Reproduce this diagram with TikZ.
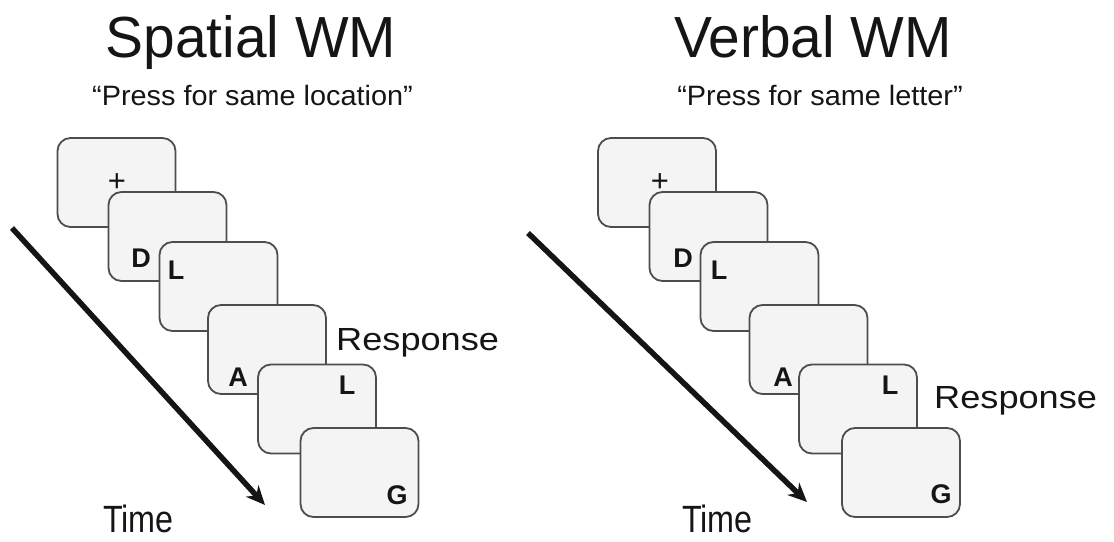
\documentclass[tikz,border=0pt]{standalone}
\usepackage{fontspec}
\setmainfont{Liberation Sans}
\usetikzlibrary{arrows.meta}
\definecolor{cardedge}{HTML}{4D4D4D}
\definecolor{cardfill}{HTML}{F4F4F4}
\definecolor{ink}{HTML}{151515}
\tikzset{
  card/.style={draw=cardedge, fill=cardfill, line width=1.8pt, rounded corners=13pt,
    minimum width=118pt, minimum height=89pt, inner sep=0pt},
  stim/.style={font=\fontsize{27}{27}\selectfont\bfseries, inner sep=0pt, text=ink},
  fix/.style={font=\fontsize{31}{31}\selectfont, inner sep=0pt, text=ink},
  title/.style={font=\fontsize{58}{58}\selectfont, anchor=base, inner sep=0pt, text=ink, xscale=0.98},
  instr/.style={font=\fontsize{28}{28}\selectfont, anchor=base, inner sep=0pt, text=ink, xscale=1.03},
  resp/.style={font=\fontsize{32}{32}\selectfont, anchor=base west, inner sep=0pt, text=ink, xscale=1.13},
  timelbl/.style={font=\fontsize{38}{38}\selectfont, anchor=base west, inner sep=0pt, text=ink, xscale=0.85},
  timearrow/.style={draw=ink, line width=5.5pt, -{Stealth[length=19pt,width=17pt]}}
}
\begin{document}
\begin{tikzpicture}[x=1pt,y=-1pt]
\useasboundingbox (0,0) rectangle (1114,541);

% ---------- Spatial working memory ----------
\node[title] (stitle) at (251,57) {Spatial WM};
\node[instr] (sinstr) at (252.5,105) {“Press for same location”};

\node[card] (s1) at (116.5,182.5) {};
\node[fix]  (s1t) at (117,183) {+};
\node[card] (s2) at (167.5,236.5) {};
\node[stim] (s2t) at (141,258) {D};
\node[card] (s3) at (218.5,286.5) {};
\node[stim] (s3t) at (176,270) {L};
\node[card] (s4) at (267,349.5) {};
\node[stim] (s4t) at (238,377) {A};
\node[card] (s5) at (317,409) {};
\node[stim] (s5t) at (347,385) {L};
\node[card] (s6) at (359.5,472.5) {};
\node[stim] (s6t) at (397,495) {G};

\node[resp] (sresp) at (336,350) {Response};

\coordinate (sa) at (12,228);
\coordinate (sb) at (265,505);
\draw[timearrow] (sa) -- (sb);
\node[timelbl] (stime) at (103,532) {Time};

% ---------- Verbal working memory ----------
\node[title] (vtitle) at (813,57) {Verbal WM};
\node[instr] (vinstr) at (820,105) {“Press for same letter”};

\node[card] (v1) at (657,182.5) {};
\node[fix]  (v1t) at (660,183) {+};
\node[card] (v2) at (708.5,236.5) {};
\node[stim] (v2t) at (683,258) {D};
\node[card] (v3) at (759.5,286.5) {};
\node[stim] (v3t) at (719,270) {L};
\node[card] (v4) at (808.5,349.5) {};
\node[stim] (v4t) at (783,377) {A};
\node[card] (v5) at (858,409) {};
\node[stim] (v5t) at (890,385) {L};
\node[card] (v6) at (901,472.5) {};
\node[stim] (v6t) at (941,494) {G};

\node[resp] (vresp) at (934,408) {Response};

\coordinate (va) at (528,233);
\coordinate (vb) at (807,502);
\draw[timearrow] (va) -- (vb);
\node[timelbl] (vtime) at (682,532) {Time};
\end{tikzpicture}
\end{document}
